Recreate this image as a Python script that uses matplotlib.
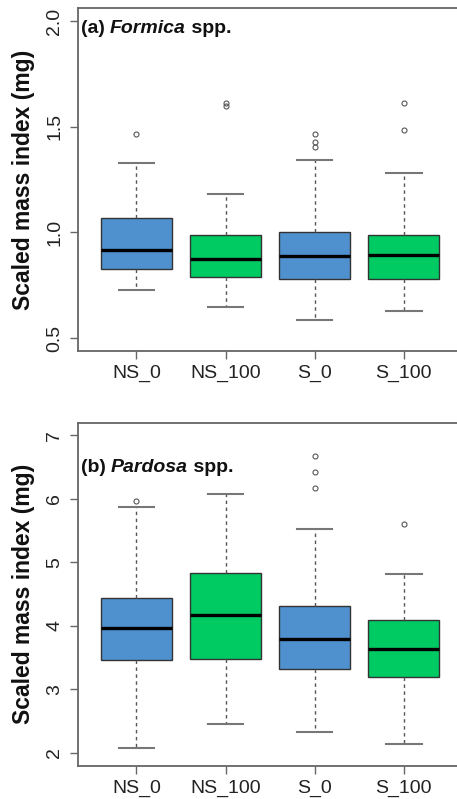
import matplotlib
matplotlib.use("Agg")
import matplotlib.pyplot as plt
from matplotlib.offsetbox import TextArea, HPacker, AnchoredOffsetbox

plt.rcParams['font.family'] = ['Liberation Sans', 'DejaVu Sans']

categories = ["NS_0", "NS_100", "S_0", "S_100"]
box_colors = ["#4F91CE", "#00CB63", "#4F91CE", "#00CB63"]

# (a) Formica spp.
formica_whislo = [0.725, 0.646, 0.583, 0.626]
formica_q1 = [0.826, 0.789, 0.779, 0.779]
formica_med = [0.918, 0.872, 0.888, 0.894]
formica_q3 = [1.068, 0.989, 1.002, 0.988]
formica_whishi = [1.329, 1.182, 1.341, 1.280]
formica_fliers = [[1.463], [1.610, 1.598], [1.463, 1.427, 1.403], [1.611, 1.482]]
formica_yticks = [0.5, 1.0, 1.5, 2.0]
formica_yticklabels = ["0.5", "1.0", "1.5", "2.0"]

# (b) Pardosa spp.
pardosa_whislo = [2.076, 2.461, 2.335, 2.134]
pardosa_q1 = [3.466, 3.487, 3.324, 3.193]
pardosa_med = [3.967, 4.167, 3.788, 3.640]
pardosa_q3 = [4.446, 4.841, 4.310, 4.098]
pardosa_whishi = [5.878, 6.073, 5.526, 4.825]
pardosa_fliers = [[5.973], [], [6.668, 6.420, 6.179], [5.599]]
pardosa_yticks = [2, 3, 4, 5, 6, 7]
pardosa_yticklabels = ["2", "3", "4", "5", "6", "7"]

W, H = 457, 799
fig = plt.figure(figsize=(W / 100, H / 100), dpi=100)

def px_axes(left, top, right, bottom):
    return fig.add_axes([left / W, 1 - bottom / H, (right - left) / W, (bottom - top) / H])

ax_a = px_axes(77.7, 8.3, 462.5, 350.7)
ax_b = px_axes(77.7, 422.7, 462.5, 765.7)

frame_col = "#666666"

def draw_panel(ax, whislo, q1, med, q3, whishi, fliers, yticks, yticklabels, ylim, genus, letter, title_y):
    stats = []
    for i, cat in enumerate(categories):
        stats.append(dict(label=cat, whislo=whislo[i], q1=q1[i], med=med[i],
                          q3=q3[i], whishi=whishi[i], fliers=fliers[i]))
    bp = ax.bxp(stats, positions=range(1, len(categories) + 1), widths=0.8,
                patch_artist=True, showfliers=True,
                boxprops=dict(edgecolor="#333333", linewidth=1.0),
                medianprops=dict(color="black", linewidth=2.4, solid_capstyle="butt"),
                whiskerprops=dict(color="#555555", linewidth=1.0, linestyle=(0, (2.5, 2.5))),
                capprops=dict(color="#777777", linewidth=1.5),
                flierprops=dict(marker="o", markersize=3.6, markerfacecolor="none",
                                markeredgecolor="#555555", markeredgewidth=0.8))
    for i, patch in enumerate(bp["boxes"]):
        patch.set_facecolor(box_colors[i])
    for cap in bp["caps"]:
        x0, x1 = cap.get_xdata()
        c = (x0 + x1) / 2
        cap.set_xdata([c - 0.2, c + 0.2])
    ax.set_xlim(0.34, 4.66)
    ax.set_ylim(*ylim)
    ax.set_xticks(range(1, len(categories) + 1))
    ax.set_xticklabels(categories, fontsize=14, color="#222222")
    ax.set_yticks(yticks)
    ax.set_yticklabels(yticklabels, fontsize=14, color="#222222", rotation=90, va="center")
    ax.tick_params(axis="both", length=5.5, width=1.0, color=frame_col)
    ax.tick_params(axis="x", pad=5)
    ax.tick_params(axis="y", pad=5)
    for s in ax.spines.values():
        s.set_color(frame_col)
        s.set_linewidth(1.3)
    ax.set_ylabel("Scaled mass index (mg)", fontsize=16.5, fontweight="bold", color="#111111")
    ax.yaxis.label.set_va("center")
    ax.yaxis.set_label_coords(-0.14, 0.5)
    t1 = TextArea("(" + letter + ") ", textprops=dict(fontsize=14, fontweight="bold", color="#111111"))
    t2 = TextArea(genus, textprops=dict(fontsize=14, fontweight="bold", style="italic", color="#111111"))
    t3 = TextArea(" spp.", textprops=dict(fontsize=14, fontweight="bold", color="#111111"))
    pack = HPacker(children=[t1, t2, t3], align="baseline", pad=0, sep=0)
    anch = AnchoredOffsetbox(loc="center left", child=pack, pad=0, borderpad=0, frameon=False,
                             bbox_to_anchor=(0.008, title_y), bbox_transform=ax.transAxes)
    ax.add_artist(anch)

draw_panel(ax_a, formica_whislo, formica_q1, formica_med, formica_q3, formica_whishi,
           formica_fliers, formica_yticks, formica_yticklabels, (0.44, 2.06), "Formica", "a", 0.942)
draw_panel(ax_b, pardosa_whislo, pardosa_q1, pardosa_med, pardosa_q3, pardosa_whishi,
           pardosa_fliers, pardosa_yticks, pardosa_yticklabels, (1.8, 7.2), "Pardosa", "b", 0.868)

fig.savefig("out.png", dpi=100)
